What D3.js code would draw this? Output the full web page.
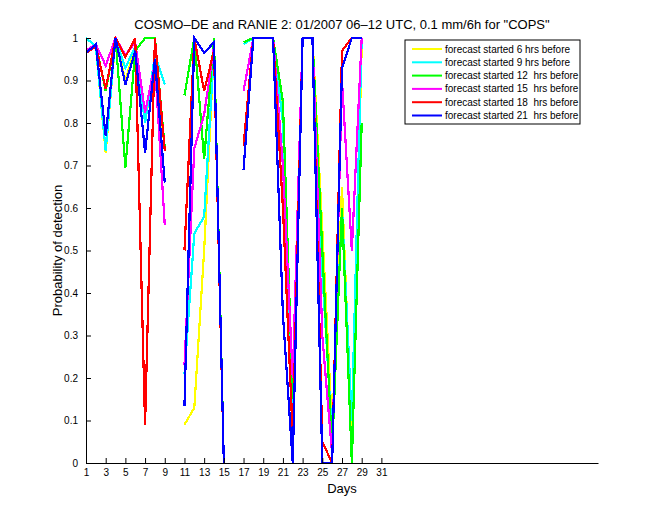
<!DOCTYPE html>
<html>
<head>
<meta charset="utf-8">
<script src="https://cdn.jsdelivr.net/npm/d3@7"></script>
<style>
  body { margin: 0; background: #fff; }
  text { font-family: "Liberation Sans", Arial, Helvetica, sans-serif; }
</style>
</head>
<body>
<div id="chart"></div>
<script>
const svgWidth = 660;
const svgHeight = 520;

// axes box like the MATLAB default position
const margin = { top: 38, right: 62, bottom: 57, left: 86 };
const width = svgWidth - margin.left - margin.right;
const height = svgHeight - margin.top - margin.bottom;

// data (day 1..31, null = no data)
const days = d3.range(1, 32);
const xTicks = d3.range(1, 32, 2);
const yTicks = d3.range(0, 11).map(d => d / 10);

const seriesNames = [
  "forecast started 6 hrs before",
  "forecast started 9 hrs before",
  "forecast started 12  hrs before",
  "forecast started 15  hrs before",
  "forecast started 18  hrs before",
  "forecast started 21  hrs before"
];
const seriesColors = ["#ffff00", "#00ffff", "#00ff00", "#ff00ff", "#ff0000", "#0000ff"];

const fc6 = [1.0, 0.98, 0.73, 1.0, 0.9, 0.98, 0.8, 0.95, 0.74, null,
  0.09, 0.13, 0.5, 0.98, 0, null,
  0.99, 1, 1, 1, 0.82, 0.15, 1, 1, 0.55, 0.08, 0.65, 0.05, 0.98, null, null];
const fc9 = [1.0, 0.98, 0.735, 1.0, 0.93, 0.98, 0.8, 0.96, 0.89, null,
  0.21, 0.54, 0.58, 0.97, 0, null,
  0.985, 1, 1, 1, 0.8, 0.12, 1, 1, 0.45, 0.06, 0.6, 0.1, 1.0, null, null];
const fc12 = [0.965, 0.985, 0.875, 1.0, 0.695, 0.97, 1.0, 1.0, 0.74, null,
  0.865, 1.0, 0.715, 1.0, 0, null,
  0.99, 1, 1, 1, 0.85, 0.15, 1, 1, 0.5, 0.03, 0.6, 0.0, 0.8, null, null];
const fc15 = [0.97, 0.985, 0.935, 1.0, 0.96, 0.99, 0.825, 0.94, 0.56, null,
  0.23, 0.74, 0.82, 0.98, 0, null,
  0.875, 1, 1, 1, 0.7, 0.2, 1, 1, 0.3, 0.02, 0.9, 0.5, 1.0, null, null];
const fc18 = [0.965, 0.98, 0.88, 1.0, 0.955, 1.0, 0.09, 1.0, 0.735, null,
  0.5, 1.0, 0.875, 0.97, 0, null,
  0.745, 1, 1, 1, 0.6, 0.06, 1, 1, 0.05, 0.0, 0.97, 1.0, 1.0, null, null];
const fc21 = [0.965, 0.985, 0.77, 1.0, 0.89, 0.97, 0.73, 0.95, 0.66, null,
  0.135, 1.0, 0.965, 0.99, 0, null,
  0.69, 1, 1, 1, 0.35, 0, 1, 1, 0, 0, 0.93, 1.0, 1.0, null, null];

const allSeries = [fc6, fc9, fc12, fc15, fc18, fc21];

const svg = d3.select("#chart")
  .append("svg")
  .attr("width", svgWidth)
  .attr("height", svgHeight);

svg.append("rect")
  .attr("width", svgWidth)
  .attr("height", svgHeight)
  .attr("fill", "#fff");

const chartGroup = svg.append("g")
  .attr("transform", `translate(${margin.left}, ${margin.top})`);

// scales
const xScale = d3.scaleLinear().domain([1, 53]).range([0, width]);
const yScale = d3.scaleLinear().domain([0, 1]).range([height, 0]);

// lines, aliased like the old MATLAB export
const line = d3.line()
  .defined(d => d.v !== null)
  .x(d => xScale(d.day))
  .y(d => yScale(d.v));

allSeries.forEach(function (vals, i) {
  chartGroup.append("path")
    .datum(days.map((day, k) => ({ day: day, v: vals[k] })))
    .attr("fill", "none")
    .attr("stroke", seriesColors[i])
    .attr("stroke-width", 2.2)
    .attr("shape-rendering", "crispEdges")
    .attr("d", line);
});

// axes (ticks pointing inward)
const bottomAxis = d3.axisBottom(xScale)
  .tickValues(xTicks)
  .tickSizeInner(-5)
  .tickSizeOuter(0)
  .tickPadding(6);
const leftAxis = d3.axisLeft(yScale)
  .tickValues(yTicks)
  .tickFormat(d3.format("~g"))
  .tickSizeInner(-5)
  .tickSizeOuter(0)
  .tickPadding(8);

const xAxis = chartGroup.append("g")
  .attr("transform", `translate(0, ${height})`)
  .call(bottomAxis);
const yAxis = chartGroup.append("g")
  .call(leftAxis);

[xAxis, yAxis].forEach(function (ax) {
  ax.select(".domain").attr("stroke", "#000").attr("stroke-width", 1);
  ax.selectAll(".tick line").attr("stroke", "#000");
  ax.selectAll(".tick text")
    .attr("fill", "#000")
    .style("font-size", "10px")
    .style("font-family", "'Liberation Sans', Arial, sans-serif");
});

// labels
svg.append("text")
  .attr("x", margin.left + width / 2)
  .attr("y", 29)
  .attr("text-anchor", "middle")
  .style("font-size", "13px")
  .text("COSMO\u2013DE and RANIE 2: 01/2007 06\u201312 UTC, 0.1 mm/6h for \"COPS\"");

svg.append("text")
  .attr("x", margin.left + width / 2)
  .attr("y", 493)
  .attr("text-anchor", "middle")
  .style("font-size", "13px")
  .text("Days");

svg.append("text")
  .attr("transform", "rotate(-90)")
  .attr("x", -(margin.top + height / 2))
  .attr("y", 62)
  .attr("text-anchor", "middle")
  .style("font-size", "13px")
  .text("Probability of detection");

// legend
const legend = svg.append("g").attr("transform", "translate(405, 40)");
legend.append("rect")
  .attr("width", 175)
  .attr("height", 84)
  .attr("fill", "#fff")
  .attr("stroke", "#000");

seriesNames.forEach(function (name, i) {
  const y = 9 + i * 13.3;
  legend.append("line")
    .attr("x1", 7).attr("x2", 37)
    .attr("y1", y).attr("y2", y)
    .attr("stroke", seriesColors[i])
    .attr("stroke-width", 2);
  legend.append("text")
    .attr("x", 40)
    .attr("y", y + 3.5)
    .attr("xml:space", "preserve")
    .style("white-space", "pre")
    .style("font-size", "10px")
    .text(name);
});
</script>
</body>
</html>
